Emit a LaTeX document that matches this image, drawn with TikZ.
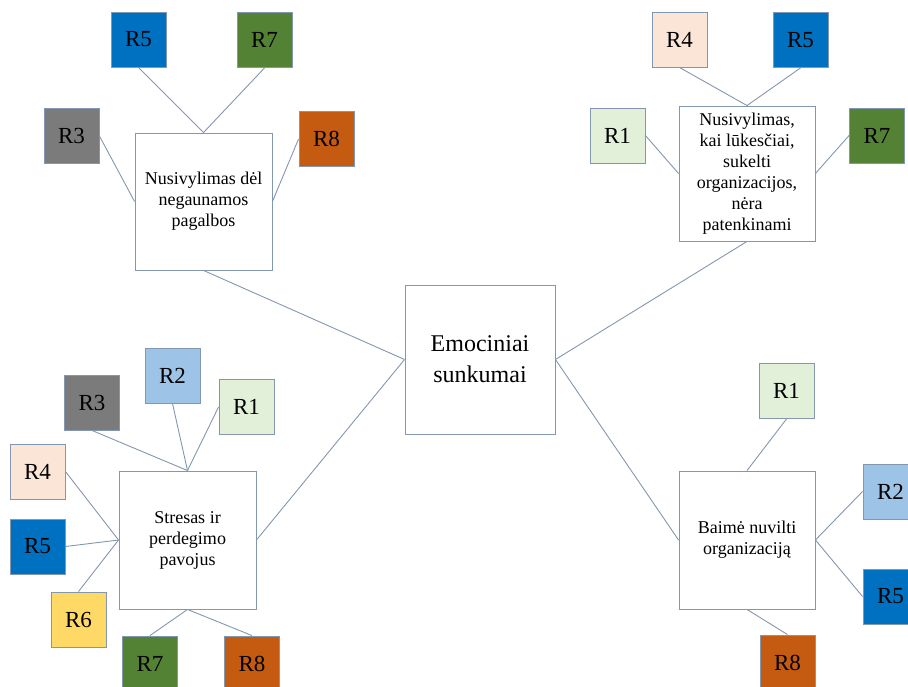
\documentclass[tikz,border=0pt]{standalone}
\usepackage{fontspec}
\setmainfont{Liberation Serif}
\newfontfamily\labelfont{Liberation Serif}
\definecolor{edge}{HTML}{8497B0}
\definecolor{cR1}{HTML}{E2F0D9}
\definecolor{cR2}{HTML}{9DC3E6}
\definecolor{cR3}{HTML}{7B7B7B}
\definecolor{cR4}{HTML}{FBE5D6}
\definecolor{cR5}{HTML}{0070C0}
\definecolor{cR6}{HTML}{FFD966}
\definecolor{cR7}{HTML}{548235}
\definecolor{cR8}{HTML}{C55A11}
\begin{document}
\begin{tikzpicture}[x=1pt,y=-1pt,
  rbox/.style={draw=edge, line width=0.9pt, minimum width=55pt, minimum height=55pt,
    inner sep=0pt, font=\labelfont\fontsize{23}{27}\selectfont},
  r1/.style={rbox, fill=cR1}, r2/.style={rbox, fill=cR2}, r3/.style={rbox, fill=cR3},
  r4/.style={rbox, fill=cR4}, r5/.style={rbox, fill=cR5}, r6/.style={rbox, fill=cR6},
  r7/.style={rbox, fill=cR7}, r8/.style={rbox, fill=cR8},
  topic/.style={draw=edge, fill=white, line width=0.9pt, inner sep=2pt, align=center,
    minimum width=137pt, minimum height=137pt, font=\labelfont\fontsize{18}{21}\selectfont},
  core/.style={topic, minimum width=150pt, minimum height=149pt,
    font=\labelfont\fontsize{24}{31}\selectfont},
  link/.style={draw=edge, line width=0.9pt}]
\useasboundingbox (0,0) rectangle (908,687);

% central theme
\node[core] (C) at (480,359.5) {Emociniai\\sunkumai};

% sub-themes
\node[topic] (A) at (203.5,201.5) {Nusivylimas dėl\\negaunamos\\pagalbos};
\node[topic, minimum width=136pt, minimum height=135pt] (B) at (747,173.5)
  {Nusivylimas,\\kai lūkesčiai,\\sukelti\\organizacijos,\\nėra\\patenkinami};
\node[topic, minimum height=138pt] (D) at (187.5,540) {Stresas ir\\perdegimo\\pavojus};
\node[topic, minimum width=136pt, minimum height=138pt] (E) at (747,540) {Baimė nuvilti\\organizaciją};

% respondents around A
\node[r5] (a5) at (138.5,39.5) {R5};
\node[r7] (a7) at (264.5,40) {R7};
\node[r3] (a3) at (71.5,136) {R3};
\node[r8] (a8) at (326.5,139) {R8};

% respondents around B
\node[r4] (b4) at (679.5,39.5) {R4};
\node[r5] (b5) at (800.5,40) {R5};
\node[r1] (b1) at (617.5,135.5) {R1};
\node[r7] (b7) at (877,135.5) {R7};

% respondents around D
\node[r2] (d2) at (172.5,375.5) {R2};
\node[r3] (d3) at (92,402.5) {R3};
\node[r1] (d1) at (246.5,407) {R1};
\node[r4] (d4) at (37.5,471.5) {R4};
\node[r5] (d5) at (37.5,546.5) {R5};
\node[r6] (d6) at (78.5,619.5) {R6};
\node[r7] (d7) at (150,663.5) {R7};
\node[r8] (d8) at (252,663.5) {R8};

% respondents around E
\node[r1] (e1) at (786.5,391) {R1};
\node[r2] (e2) at (890.5,491.5) {R2};
\node[r5] (e5) at (890.5,596.5) {R5};
\node[r8] (e8) at (787.5,662.5) {R8};

% links to the central theme
\draw[link] (A.south) -- (C.west);
\draw[link] (D.east) -- (C.west);
\draw[link] (B.south) -- (C.east);
\draw[link] (C.east) -- (E.west);

% links to respondents
\draw[link] (a5.south) -- (A.north);
\draw[link] (a7.south) -- (A.north);
\draw[link] (a3.east) -- (A.west);
\draw[link] (a8.west) -- (A.east);

\draw[link] (b4.south) -- (B.north);
\draw[link] (b5.south) -- (B.north);
\draw[link] (b1.east) -- (B.west);
\draw[link] (b7.west) -- (B.east);

\draw[link] (d3.south) -- (D.north);
\draw[link] (d2.south) -- (D.north);
\draw[link] (d1.west) -- (D.north);
\draw[link] (d4.east) -- (D.west);
\draw[link] (d5.east) -- (D.west);
\draw[link] (d6.north) -- (D.west);
\draw[link] (d7.north) -- (D.south);
\draw[link] (d8.north) -- (D.south);

\draw[link] (e1.south) -- (E.north);
\draw[link] (e2.west) -- (E.east);
\draw[link] (e5.west) -- (E.east);
\draw[link] (e8.north) -- (E.south);
\end{tikzpicture}
\end{document}
